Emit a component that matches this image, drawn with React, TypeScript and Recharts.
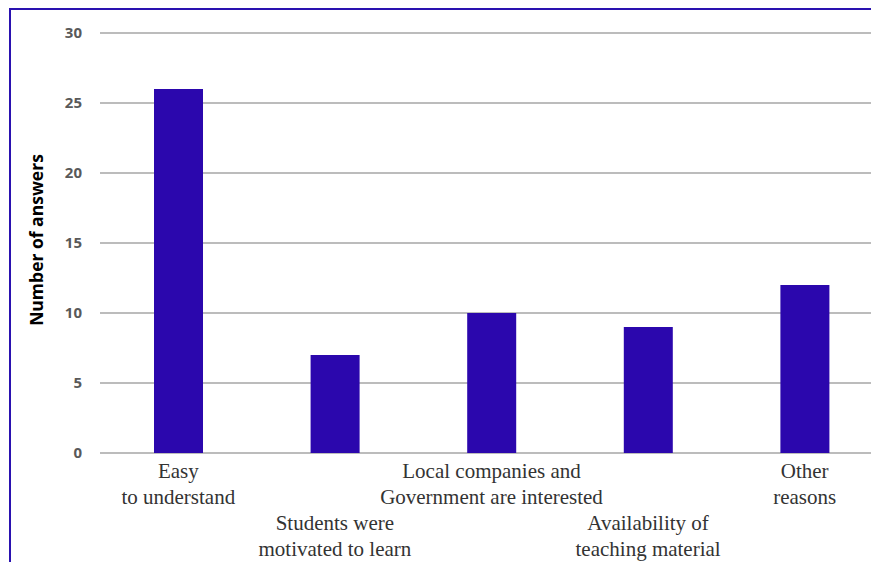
import { Bar, BarChart, CartesianGrid, XAxis, YAxis } from 'recharts';

const categories = [
  'Easy to understand',
  'Students were motivated to learn',
  'Local companies and Government are interested',
  'Availability of teaching material',
  'Other reasons',
];
const tickLines = [
  ['Easy', 'to understand'],
  ['Students were', 'motivated to learn'],
  ['Local companies and', 'Government are interested'],
  ['Availability of', 'teaching material'],
  ['Other', 'reasons'],
];
const answers = [26, 7, 10, 9, 12];
const yTicks = [0, 5, 10, 15, 20, 25, 30];

const data = categories.map((name, i) => ({ name, answers: answers[i] }));

const serif = '"Liberation Serif", "Times New Roman", serif';

function CategoryTick(props: any) {
  const { x, y, payload } = props;
  const idx = payload.index ?? categories.indexOf(payload.value);
  const lines = tickLines[idx] ?? [String(payload.value)];
  const base = idx % 2 === 0 ? 25 : 77;
  return (
    <g>
      {lines.map((line, i) => (
        <text
          key={i}
          x={x}
          y={y + base + i * 26}
          textAnchor="middle"
          fill="#333333"
          style={{ fontFamily: serif, fontSize: 21 }}
        >
          {line}
        </text>
      ))}
    </g>
  );
}

function AxisTitle() {
  return (
    <text
      x={43}
      y={240}
      transform="rotate(-90 43 240)"
      textAnchor="middle"
      fill="#000000"
      style={{ fontFamily: '"Open Sans", "Liberation Sans", sans-serif', fontSize: 17.5, fontWeight: 'bold' }}
    >
      Number of answers
    </text>
  );
}

export default function App() {
  return (
    <div
      style={{
        position: 'absolute',
        left: 0,
        top: 0,
        width: 871,
        height: 562,
        overflow: 'hidden',
        background: '#ffffff',
      }}
    >
      <div
        style={{
          position: 'absolute',
          left: 9,
          top: 8,
          right: 0,
          bottom: 0,
          borderTop: '2px solid #2a12b0',
          borderLeft: '2px solid #2a12b0',
        }}
      />
      <div style={{ position: 'absolute', left: 0, top: 0 }}>
        <BarChart
          width={900}
          height={562}
          data={data}
          margin={{ top: 33, right: 17, bottom: 9, left: 0 }}
        >
          <CartesianGrid vertical={false} stroke="#bcbcbc" strokeWidth={2} />
          <XAxis
            dataKey="name"
            axisLine={false}
            tickLine={false}
            tickSize={0}
            tickMargin={0}
            height={100}
            interval={0}
            tick={<CategoryTick />}
          />
          <YAxis
            width={100}
            domain={[0, 30]}
            ticks={yTicks}
            axisLine={false}
            tickLine={false}
            tickSize={0}
            tickMargin={18}
            tick={{
              fill: '#595959',
              fontSize: 15,
              fontWeight: 'bold',
              fontFamily: '"Open Sans", "Liberation Sans", sans-serif',
            }}
          />
          <Bar dataKey="answers" fill="#2b07ad" barSize={49} isAnimationActive={false} />
          <AxisTitle />
        </BarChart>
      </div>
    </div>
  );
}
